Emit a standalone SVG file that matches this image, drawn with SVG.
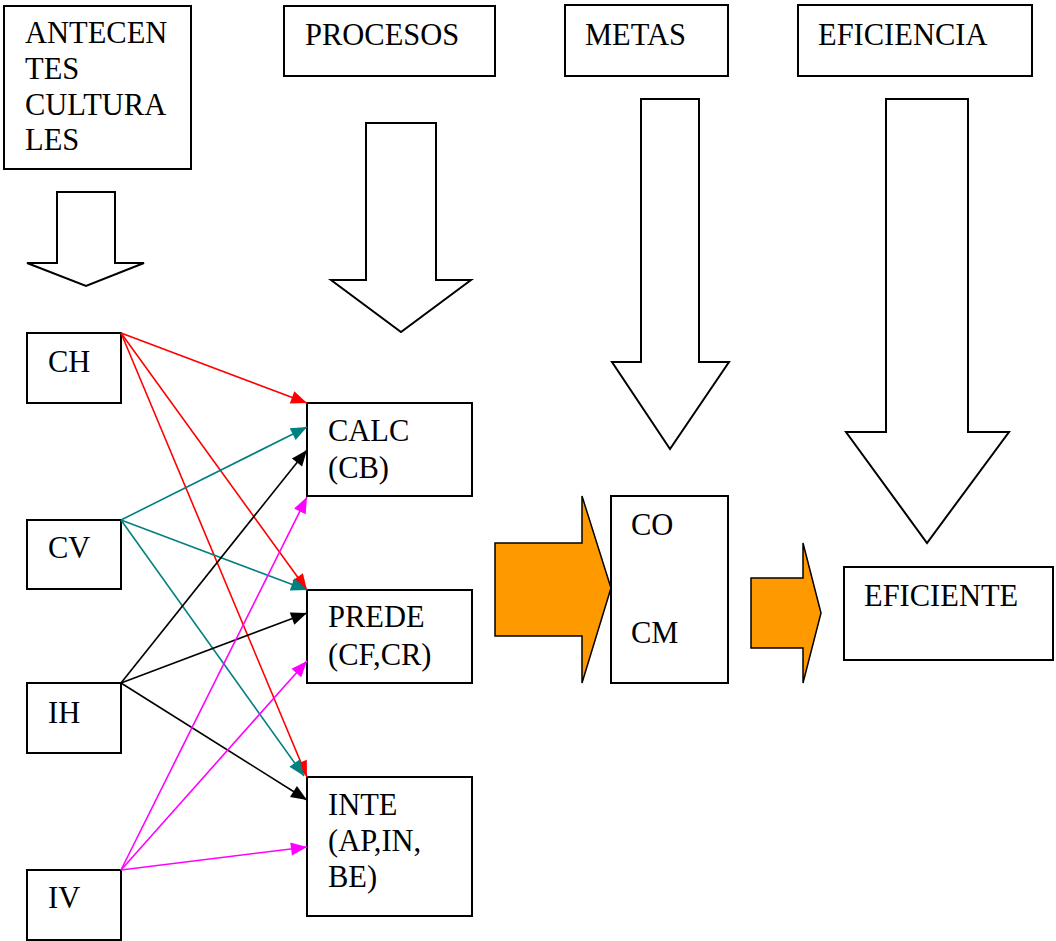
<svg xmlns="http://www.w3.org/2000/svg" width="1056" height="941" viewBox="0 0 1056 941">
<style>
.box{fill:#fff;stroke:#000;stroke-width:2}
.blk{fill:#fff;stroke:#000;stroke-width:2;stroke-linejoin:miter}
.org{fill:#FF9900;stroke:#000;stroke-width:1.5}
text{font-family:"Liberation Serif","Times New Roman",serif;font-size:30.5px;fill:#000}
.c{fill:none;stroke-width:1.6}
</style>
<defs>
<marker id="mr" viewBox="0 0 10 10" refX="10" refY="5" markerWidth="10" markerHeight="10" markerUnits="userSpaceOnUse" orient="auto" overflow="visible"><path d="M-6,-1.5 L10,5 L-6,11.5 Z" fill="#FF0000"/></marker>
<marker id="mt" viewBox="0 0 10 10" refX="10" refY="5" markerWidth="10" markerHeight="10" markerUnits="userSpaceOnUse" orient="auto" overflow="visible"><path d="M-6,-1.5 L10,5 L-6,11.5 Z" fill="#008080"/></marker>
<marker id="mk" viewBox="0 0 10 10" refX="10" refY="5" markerWidth="10" markerHeight="10" markerUnits="userSpaceOnUse" orient="auto" overflow="visible"><path d="M-6,-1.5 L10,5 L-6,11.5 Z" fill="#000"/></marker>
<marker id="mm" viewBox="0 0 10 10" refX="10" refY="5" markerWidth="10" markerHeight="10" markerUnits="userSpaceOnUse" orient="auto" overflow="visible"><path d="M-6,-1.5 L10,5 L-6,11.5 Z" fill="#FF00FF"/></marker>
</defs>

<g id="antecedentes">
<rect class="box" x="4" y="6" width="187" height="163"/>
<text x="25" y="43">ANTECEN</text>
<text x="25" y="79">TES</text>
<text x="25" y="115">CULTURA</text>
<text x="25" y="150">LES</text>
</g>
<g id="procesos">
<rect class="box" x="284" y="6" width="211" height="70"/>
<text x="305" y="45">PROCESOS</text>
</g>
<g id="metas">
<rect class="box" x="565" y="5" width="163" height="71"/>
<text x="585" y="45">METAS</text>
</g>
<g id="eficiencia">
<rect class="box" x="798" y="5" width="234" height="71"/>
<text x="818" y="45">EFICIENCIA</text>
</g>

<g id="arrow-antecedentes"><path class="blk" d="M57,192 H115 V263 H144 L86,286 L27,263 H57 Z"/></g>
<g id="arrow-procesos"><path class="blk" d="M366,123 H436 V280 H471 L401,332 L331,280 H366 Z"/></g>
<g id="arrow-metas"><path class="blk" d="M641,99 H699 V362 H729 L670,449 L612,362 H641 Z"/></g>
<g id="arrow-eficiencia"><path class="blk" d="M886,99 H968 V432 H1009 L927,543 L846,432 H886 Z"/></g>

<g id="CH"><rect class="box" x="27" y="333" width="94" height="70"/><text x="48" y="372">CH</text></g>
<g id="CV"><rect class="box" x="27" y="520" width="94" height="69"/><text x="48" y="558">CV</text></g>
<g id="IH"><rect class="box" x="27" y="683" width="94" height="70"/><text x="48" y="723">IH</text></g>
<g id="IV"><rect class="box" x="27" y="870" width="94" height="70"/><text x="48" y="908">IV</text></g>

<g id="CALC"><rect class="box" x="307" y="403" width="165" height="93"/><text x="328" y="441">CALC</text><text x="328" y="478">(CB)</text></g>
<g id="PREDE"><rect class="box" x="307" y="590" width="165" height="93"/><text x="328" y="627">PREDE</text><text x="328" y="665">(CF,CR)</text></g>
<g id="INTE"><rect class="box" x="307" y="777" width="165" height="139"/><text x="328" y="815">INTE</text><text x="328" y="851">(AP,IN,</text><text x="328" y="887">BE)</text></g>

<g id="connectors">
<line class="c" stroke="#FF0000" x1="121" y1="333" x2="307" y2="403" marker-end="url(#mr)"/>
<line class="c" stroke="#FF0000" x1="121" y1="333" x2="307" y2="590" marker-end="url(#mr)"/>
<line class="c" stroke="#FF0000" x1="121" y1="333" x2="307" y2="777" marker-end="url(#mr)"/>
<line class="c" stroke="#008080" x1="121" y1="520" x2="307" y2="427" marker-end="url(#mt)"/>
<line class="c" stroke="#008080" x1="121" y1="520" x2="307" y2="590" marker-end="url(#mt)"/>
<line class="c" stroke="#008080" x1="121" y1="520" x2="304" y2="776" marker-end="url(#mt)"/>
<line class="c" stroke="#000" x1="121" y1="683" x2="307" y2="450" marker-end="url(#mk)"/>
<line class="c" stroke="#000" x1="121" y1="683" x2="307" y2="613" marker-end="url(#mk)"/>
<line class="c" stroke="#000" x1="121" y1="683" x2="307" y2="800" marker-end="url(#mk)"/>
<line class="c" stroke="#FF00FF" x1="121" y1="870" x2="307" y2="497" marker-end="url(#mm)"/>
<line class="c" stroke="#FF00FF" x1="121" y1="870" x2="307" y2="661" marker-end="url(#mm)"/>
<line class="c" stroke="#FF00FF" x1="121" y1="870" x2="307" y2="847" marker-end="url(#mm)"/>
</g>

<g id="orange-arrow-1"><path class="org" d="M495,543 H582 V496 L611,588 L582,683 V636 H495 Z"/></g>
<g id="CO-CM"><rect class="box" x="611" y="496" width="117" height="187"/><text x="631" y="535">CO</text><text x="631" y="643">CM</text></g>
<g id="orange-arrow-2"><path class="org" d="M751,578 H803 V543 L821,613 L803,683 V648 H751 Z"/></g>
<g id="EFICIENTE"><rect class="box" x="844" y="567" width="209" height="93"/><text x="864" y="606">EFICIENTE</text></g>
</svg>
